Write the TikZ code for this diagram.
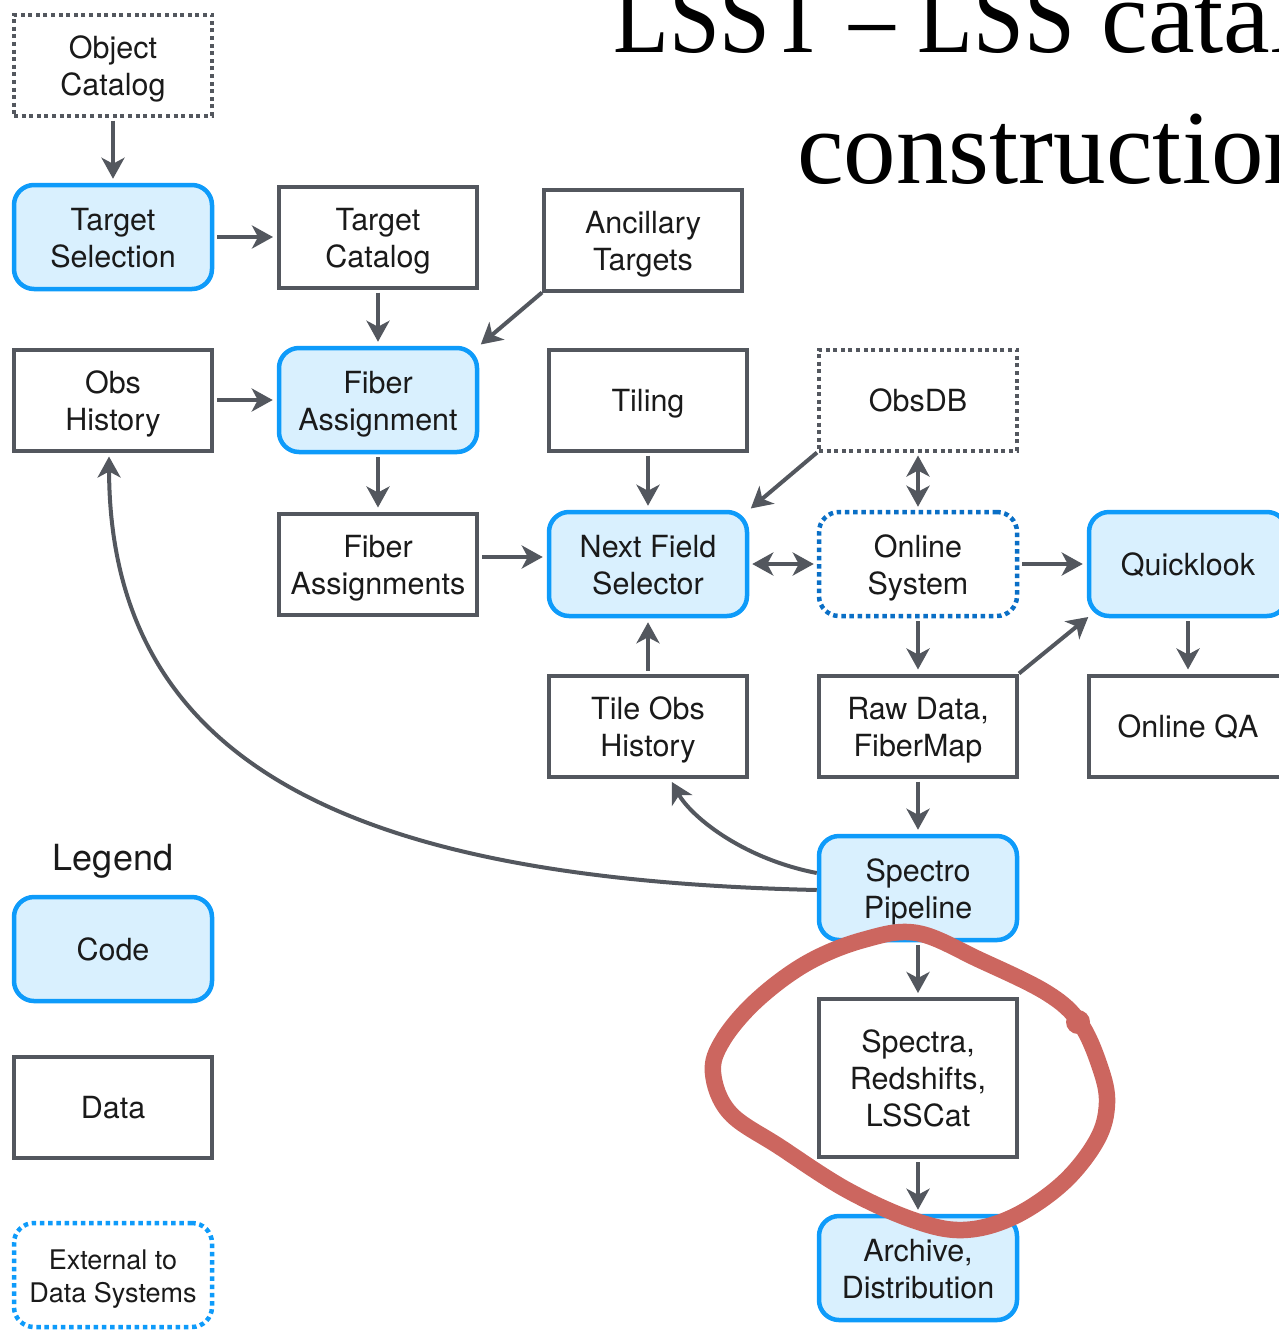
\documentclass[tikz,border=0pt]{standalone}
\usepackage{fontspec}
\setmainfont{TeX Gyre Heros}
\newfontfamily\titlefont{Liberation Serif}
\usetikzlibrary{arrows.meta,calc}
\definecolor{gc}{HTML}{53575E}
\definecolor{bc}{HTML}{0E9BFA}
\definecolor{bfill}{HTML}{D9F0FE}
\definecolor{dbc}{HTML}{0A6FC6}
\definecolor{rc}{HTML}{CC665F}
\definecolor{tc}{HTML}{1A1A1A}
\newcommand\topstrut{\rule{0pt}{30pt}}
\begin{document}
\begin{tikzpicture}[x=1pt,y=-1pt,
  base/.style={align=center, inner sep=0pt, minimum width=198pt, text=tc,
    font=\fontsize{30.5}{37}\selectfont,
    execute at end node={\rule[-7pt]{0pt}{7pt}}},
  databox/.style={base, draw=gc, line width=4pt, fill=white, minimum height=101pt},
  codebox/.style={base, draw=bc, line width=4.5pt, fill=bfill, rounded corners=20pt, minimum height=104pt},
  extdb/.style={base, draw=gc, line width=4pt, fill=white, dash pattern=on 4pt off 3.6pt, minimum height=101pt},
  extsys/.style={base, draw=dbc, line width=4.5pt, fill=white, dash pattern=on 4.5pt off 3.7pt, rounded corners=20pt, minimum height=104pt},
  tip/.tip={Stealth[length=21pt,width=23pt,inset=6pt]},
  arr/.style={draw=gc, line width=4pt, -tip, shorten <=3pt, shorten >=4pt},
  darr/.style={draw=gc, line width=4pt, tip-tip, shorten <=3pt, shorten >=3pt},
  titletext/.style={anchor=base west, inner sep=0pt, text=black, font=\titlefont\fontsize{105}{110}\selectfont},
]
\useasboundingbox (0,0) rectangle (1279,1331);
\clip (0,0) rectangle (1279,1331);

% title
\node[titletext] (t1) at (613,52) {\scalebox{0.87}[1]{LSST – LSS} catalog};
\node[titletext] (t2) at (797,183) {construction};

% column 1
\node[extdb] (objcat) at (113,65) {\topstrut Object\\Catalog};
\node[codebox] (tsel) at (113,237) {\topstrut Target\\Selection};
\node[databox] (obshist) at (113,400) {\topstrut Obs\\History};

% column 2
\node[databox] (tcat) at (378,237) {\topstrut Target\\Catalog};
\node[codebox] (fa) at (378,400) {\topstrut Fiber\\Assignment};
\node[databox] (fas) at (378,564) {\topstrut Fiber\\Assignments};

% column 3
\node[databox] (anc) at (643,240) {\topstrut Ancillary\\Targets};
\node[databox] (tiling) at (648,400) {\topstrut Tiling};
\node[codebox] (nfs) at (648,564) {\topstrut Next Field\\Selector};
\node[databox] (tobs) at (648,726) {\topstrut Tile Obs\\History};

% column 4
\node[extdb] (obsdb) at (918,400) {\topstrut ObsDB};
\node[extsys] (online) at (918,564) {\topstrut Online\\System};
\node[databox] (raw) at (918,726) {\topstrut Raw Data,\\FiberMap};
\node[codebox] (spec) at (918,888) {\topstrut Spectro\\Pipeline};
\node[databox, minimum height=158pt] (sprs) at (918,1078) {\topstrut Spectra,\\Redshifts,\\LSSCat};
\node[codebox] (arch) at (918,1268) {\topstrut Archive,\\Distribution};

% column 5
\node[codebox] (quick) at (1188,564) {\topstrut Quicklook};
\node[databox] (oqa) at (1188,726) {\topstrut Online QA};

% legend
\node[anchor=base, inner sep=0pt, text=tc, font=\fontsize{36}{40}\selectfont] (leg) at (113,870) {Legend};
\node[codebox] (lcode) at (113,949) {\topstrut Code};
\node[databox] (ldata) at (113,1107) {\topstrut Data};
\node[extsys, draw=bc, font=\fontsize{27}{33}\selectfont] (lext) at (113,1275) {\rule{0pt}{28pt}External to\\Data Systems};

% connectors
\draw[arr] (objcat) -- (tsel);
\draw[arr] (tsel) -- (tcat);
\draw[arr] (tcat) -- (fa);
\draw[arr, shorten <=0pt, shorten >=2pt] (anc.south west) -- (fa.north east);
\draw[arr] (obshist) -- (fa);
\draw[arr] (fa) -- (fas);
\draw[arr] ([yshift=7pt]fas.east) -- ([yshift=7pt]nfs.west);
\draw[arr] (tiling) -- (nfs);
\draw[arr, shorten <=0pt, shorten >=2pt] (obsdb.south west) -- (nfs.north east);
\draw[darr] (obsdb) -- (online);
\draw[darr] (nfs) -- (online);
\draw[arr] (online) -- (quick);
\draw[arr] (online) -- (raw);
\draw[arr, shorten <=0pt, shorten >=-2pt] (raw.north east) -- (quick.south west);
\draw[arr] (quick) -- (oqa);
\draw[arr] (tobs) -- (nfs);
\draw[arr] (raw) -- (spec);
\draw[arr] (spec) -- (sprs);
\draw[arr] (sprs) -- (arch);
\draw[arr, shorten <=0pt] ([yshift=15pt]spec.west) .. controls (740,858) and (690,815) .. ([xshift=22pt]tobs.south);
\draw[arr, shorten <=0pt] ([yshift=-2pt]spec.west) .. controls (380,880) and (110,780) .. ([xshift=-4pt]obshist.south);

% hand-drawn highlight
\draw[rc, line width=16.5pt, line cap=round, line join=round] plot[smooth cycle, tension=0.6] coordinates {
  (917,933) (980,960) (1047,993) (1080,1023) (1100,1067) (1107,1103) (1097,1140)
  (1063,1183) (1013,1217) (963,1230) (913,1220) (847,1190) (780,1147) (730,1113)
  (713,1073) (723,1040) (757,1000) (807,963) (863,940)};
\fill[rc] (1078,1022) circle (12pt);
\end{tikzpicture}
\end{document}
